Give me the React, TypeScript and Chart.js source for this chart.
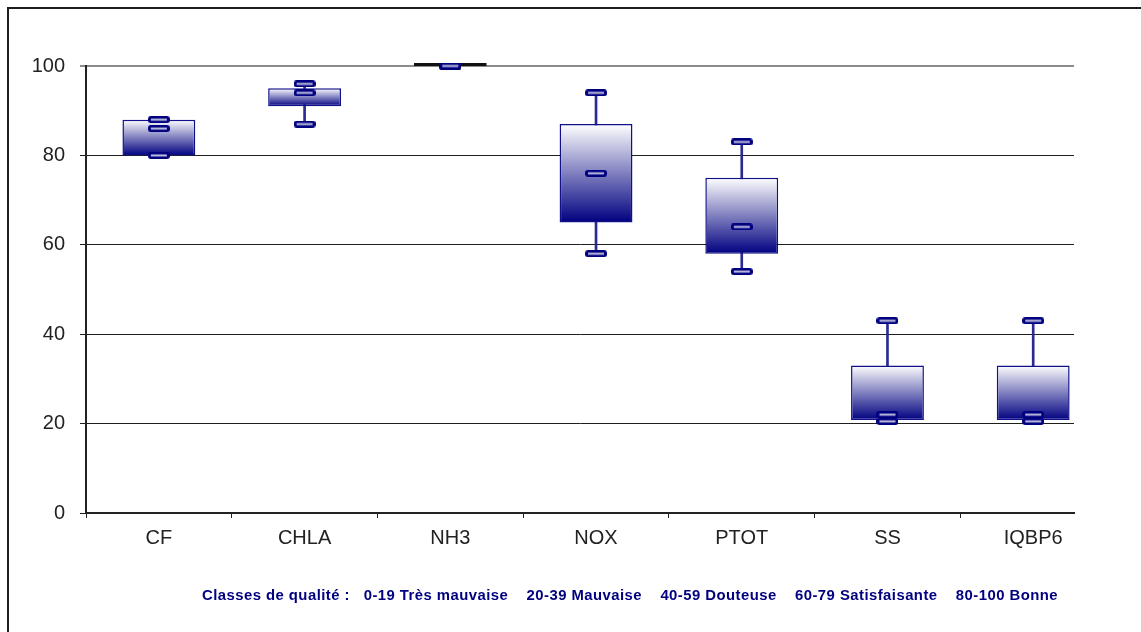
import React, { useEffect, useRef } from "react";
import { Chart, registerables } from "chart.js";

Chart.register(...registerables);

const CATEGORIES = ["CF", "CHLA", "NH3", "NOX", "PTOT", "SS", "IQBP6"];
const MAX_VALUES = [88, 96, 100, 94, 83, 43, 43];
const Q3_VALUES = [88, 95, 100, 87, 75, 33, 33];
const MEDIAN_VALUES = [86, 94, 100, 76, 64, 22, 22];
const Q1_VALUES = [80, 91, 100, 65, 58, 20.8, 20.8];
const MIN_VALUES = [80, 87, 100, 58, 54, 20.5, 20.5];
const Y_TICKS = [0, 20, 40, 60, 80, 100];
const QUALITY_TEXT =
  "Classes de qualité :   0-19 Très mauvaise    20-39 Mauvaise    40-59 Douteuse    60-79 Satisfaisante    80-100 Bonne";

const NAVY = "#000080";

function makeMarker(): HTMLCanvasElement {
  const c = document.createElement("canvas");
  c.width = 22;
  c.height = 7;
  const g = c.getContext("2d")!;
  g.fillStyle = NAVY;
  g.beginPath();
  if ((g as any).roundRect) (g as any).roundRect(0, 0, 22, 7, 3);
  else g.rect(0, 0, 22, 7);
  g.fill();
  g.fillStyle = "#c4c4e2";
  g.fillRect(3, 2.5, 16, 2);
  return c;
}

const qualityTextPlugin = {
  id: "qualityText",
  afterDraw(chart: any) {
    const ctx = chart.ctx;
    ctx.save();
    ctx.font = 'bold 15px "Liberation Sans", Arial, sans-serif';
    try {
      (ctx as any).letterSpacing = "0.45px";
    } catch (e) {}
    ctx.fillStyle = NAVY;
    ctx.textAlign = "left";
    ctx.textBaseline = "middle";
    ctx.fillText(QUALITY_TEXT, 193, 587, 856);
    ctx.restore();
  },
};

export default function App() {
  const ref = useRef<HTMLCanvasElement | null>(null);

  useEffect(() => {
    if (!ref.current) return;
    const marker = makeMarker();
    const pts = (arr: number[]) => arr.map((v, i) => ({ x: i, y: v }));

    const chart = new Chart(ref.current, {
      type: "bar",
      data: {
        datasets: [
          {
            type: "line",
            label: "max",
            data: pts(MAX_VALUES),
            showLine: false,
            pointStyle: marker as any,
            clip: false,
            order: 0,
          } as any,
          {
            type: "line",
            label: "median",
            data: pts(MEDIAN_VALUES),
            showLine: false,
            pointStyle: marker as any,
            clip: false,
            order: 0,
          } as any,
          {
            type: "line",
            label: "min",
            data: pts(MIN_VALUES),
            showLine: false,
            pointStyle: marker as any,
            clip: false,
            order: 0,
          } as any,
          {
            type: "bar",
            label: "box",
            data: CATEGORIES.map((_, i) => ({ x: i, y: [Q1_VALUES[i], Q3_VALUES[i]] })) as any,
            backgroundColor: (ctx: any) => {
              const chart = ctx.chart;
              const i = ctx.dataIndex;
              if (i === undefined || !chart.scales || !chart.scales.y) return NAVY;
              if (Q3_VALUES[i] - Q1_VALUES[i] < 0.5) return "#111111";
              const y = chart.scales.y;
              const top = y.getPixelForValue(Q3_VALUES[i]);
              const bot = y.getPixelForValue(Q1_VALUES[i]);
              if (!isFinite(top) || !isFinite(bot)) return NAVY;
              const g = chart.ctx.createLinearGradient(0, top, 0, bot);
              g.addColorStop(0, "#ffffff");
              g.addColorStop(1, NAVY);
              return g;
            },
            borderColor: (ctx: any) => {
              const i = ctx.dataIndex;
              if (i === undefined) return "#10108a";
              return Q3_VALUES[i] - Q1_VALUES[i] < 0.5 ? "#111111" : "#10108a";
            },
            borderWidth: 1.5,
            borderSkipped: false,
            barPercentage: 0.5,
            categoryPercentage: 1,
            grouped: false,
            minBarLength: 3,
            clip: false,
            order: 1,
          } as any,
          {
            type: "bar",
            label: "whisker",
            data: CATEGORIES.map((_, i) => ({ x: i, y: [MIN_VALUES[i], MAX_VALUES[i]] })) as any,
            backgroundColor: "#2a2a92",
            barThickness: 2,
            grouped: false,
            order: 2,
          } as any,
        ],
      },
      options: {
        responsive: false,
        animation: false,
        layout: { padding: { left: 0, top: 57, right: 67, bottom: 79 } },
        plugins: {
          legend: { display: false },
          tooltip: { enabled: false },
          title: { display: false },
        },
        scales: {
          x: {
            type: "linear",
            offset: false,
            bounds: "data",
            min: -0.5,
            max: 6.28,
            afterBuildTicks: (scale: any) => {
              scale.ticks = CATEGORIES.map((_, i) => ({ value: i }));
            },
            afterFit: (scale: any) => {
              scale.height = 40;
            },
            grid: {
              offset: true,
              drawOnChartArea: false,
              drawTicks: true,
              tickLength: 5,
              color: "#222222",
              lineWidth: 1,
            },
            border: { display: true, color: "#222222", width: 2 },
            ticks: {
              autoSkip: false,
              maxRotation: 0,
              padding: 8,
              color: "#222222",
              font: { family: '"Liberation Sans", Arial, sans-serif', size: 20 },
              callback: (v: any) => CATEGORIES[v as number] ?? "",
            },
          } as any,
          y: {
            type: "linear",
            min: 0,
            max: 100,
            afterBuildTicks: (scale: any) => {
              scale.ticks = Y_TICKS.map((v) => ({ value: v }));
            },
            afterFit: (scale: any) => {
              scale.width = 77;
            },
            grid: {
              color: (ctx: any) => (ctx.tick && ctx.tick.value === 100 ? "#8c8c8c" : "#1e1e1e"),
              lineWidth: (ctx: any) => (ctx.tick && ctx.tick.value === 100 ? 2 : 1),
              tickLength: 6,
            },
            border: { display: true, color: "#222222", width: 2 },
            ticks: {
              padding: 15,
              color: "#222222",
              font: { family: '"Liberation Sans", Arial, sans-serif', size: 20 },
            },
          } as any,
        },
      },
      plugins: [qualityTextPlugin],
    });

    return () => chart.destroy();
  }, []);

  return (
    <div
      style={{
        position: "absolute",
        left: 7,
        top: 7,
        width: 1134,
        height: 625,
        borderTop: "2px solid #1e1e1e",
        borderLeft: "2px solid #1e1e1e",
        boxSizing: "border-box",
        overflow: "hidden",
        background: "#ffffff",
      }}
    >
      <canvas ref={ref} width={1132} height={623} style={{ display: "block" }} />
    </div>
  );
}
